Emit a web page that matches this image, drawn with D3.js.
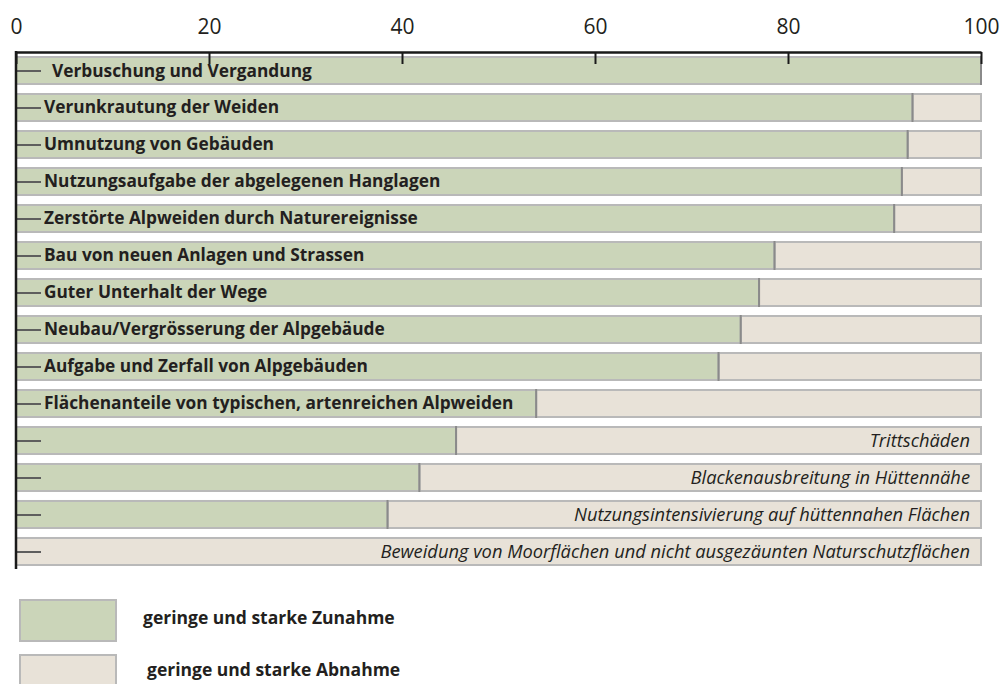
<!DOCTYPE html>
<html>
<head>
<meta charset="utf-8">
<script src="https://cdn.jsdelivr.net/npm/d3@7"></script>
<style>
  body { margin: 0; background: #fff; }
  svg { display: block; font-family: "Open Sans", "Noto Sans", sans-serif; }
</style>
</head>
<body>
<div id="chart"></div>
<script>
var categories = [
  "Verbuschung und Vergandung",
  "Verunkrautung der Weiden",
  "Umnutzung von Gebäuden",
  "Nutzungsaufgabe der abgelegenen Hanglagen",
  "Zerstörte Alpweiden durch Naturereignisse",
  "Bau von neuen Anlagen und Strassen",
  "Guter Unterhalt der Wege",
  "Neubau/Vergrösserung der Alpgebäude",
  "Aufgabe und Zerfall von Alpgebäuden",
  "Flächenanteile von typischen, artenreichen Alpweiden",
  "Trittschäden",
  "Blackenausbreitung in Hüttennähe",
  "Nutzungsintensivierung auf hüttennahen Flächen",
  "Beweidung von Moorflächen und nicht ausgezäunten Naturschutzflächen"
];
// share (%) with increase; the rest is decrease
var zunahme = [100, 92.9, 92.4, 91.8, 91.0, 78.6, 77.0, 75.1, 72.8, 53.9, 45.6, 41.8, 38.5, 0];
var abnahme = zunahme.map(function(v){ return 100 - v; });
var ticks = [0, 20, 40, 60, 80, 100];
var legendLabels = ["geringe und starke Zunahme", "geringe und starke Abnahme"];

var w = 1002, h = 684;
var cGreen = "#cbd5b9", cBeige = "#e8e2d8", cBorder = "#b9b9b9", cText = "#231f20";

var svg = d3.select("#chart").append("svg")
  .attr("width", w)
  .attr("height", h);

var x = d3.scaleLinear().domain([0, 100]).range([16, 981]);
var y = d3.scaleBand().domain(categories).range([57, 565]).paddingInner(0.27).paddingOuter(0);

var rows = categories.map(function(c, i){
  return {name: c, up: zunahme[i], down: abnahme[i]};
});

var row = svg.selectAll("g.row")
  .data(rows)
  .enter().append("g")
  .attr("class", "row")
  .attr("transform", function(d){ return "translate(0," + y(d.name) + ")"; });

// decrease part
row.append("rect")
  .attr("x", function(d){ return x(d.up); })
  .attr("y", 0)
  .attr("width", function(d){ return x(100) - x(d.up); })
  .attr("height", y.bandwidth())
  .attr("fill", cBeige)
  .attr("stroke", cBorder)
  .attr("stroke-width", 2);

// increase part
row.filter(function(d){ return d.up > 0; }).append("rect")
  .attr("x", x(0))
  .attr("y", 0)
  .attr("width", function(d){ return x(d.up) - x(0); })
  .attr("height", y.bandwidth())
  .attr("fill", cGreen)
  .attr("stroke", cBorder)
  .attr("stroke-width", 2);

// divider
row.filter(function(d){ return d.up > 0; }).append("line")
  .attr("x1", function(d){ return x(d.up); })
  .attr("x2", function(d){ return x(d.up); })
  .attr("y1", -1)
  .attr("y2", y.bandwidth() + 1)
  .attr("stroke", "#8a8a8a")
  .attr("stroke-width", 2);

// small leader ticks
row.append("line")
  .attr("x1", x(0))
  .attr("x2", x(0) + 25)
  .attr("y1", y.bandwidth() / 2 + 0.5)
  .attr("y2", y.bandwidth() / 2 + 0.5)
  .attr("stroke", "#5e5e5e")
  .attr("stroke-width", 2);

// labels: bold inside the green part, italic at the right end otherwise
row.append("text")
  .attr("x", function(d, i){ return d.up >= 50 ? (i == 0 ? 52 : 44) : x(100) - 11; })
  .attr("y", y.bandwidth() / 2 + 6)
  .attr("text-anchor", function(d){ return d.up >= 50 ? "start" : "end"; })
  .style("font-size", function(d){ return d.up >= 50 ? "17.3px" : "18.3px"; })
  .style("font-weight", function(d){ return d.up >= 50 ? "bold" : "normal"; })
  .style("font-style", function(d){ return d.up >= 50 ? "normal" : "italic"; })
  .attr("fill", cText)
  .text(function(d){ return d.name; });

// top axis
var xAxis = d3.axisTop(x)
  .tickValues(ticks)
  .tickSizeInner(-12)
  .tickSizeOuter(0)
  .tickPadding(18);

var ax = svg.append("g")
  .attr("class", "x axis")
  .attr("transform", "translate(0,52)")
  .call(xAxis);
ax.select(".domain").attr("stroke", "#1a1a1a").attr("stroke-width", 2.5);
ax.selectAll(".tick line").attr("stroke", "#1a1a1a").attr("stroke-width", 2);
ax.selectAll(".tick text")
  .attr("fill", cText)
  .style("font-size", "21px")
  .style("font-family", "'Open Sans', sans-serif");

// left axis line
svg.append("line")
  .attr("x1", x(0)).attr("x2", x(0))
  .attr("y1", 51).attr("y2", 569)
  .attr("stroke", "#1a1a1a")
  .attr("stroke-width", 2.5);

// legend
var legend = svg.selectAll("g.legend")
  .data(legendLabels)
  .enter().append("g")
  .attr("class", "legend")
  .attr("transform", function(d, i){ return "translate(0," + (600 + i * 55) + ")"; });

legend.append("rect")
  .attr("x", 20).attr("y", 0)
  .attr("width", 96).attr("height", 41)
  .attr("fill", function(d, i){ return i == 0 ? cGreen : cBeige; })
  .attr("stroke", cBorder)
  .attr("stroke-width", 2);

legend.append("text")
  .attr("x", function(d, i){ return i == 0 ? 143 : 147; })
  .attr("y", function(d, i){ return i == 0 ? 24 : 21; })
  .style("font-size", "17.5px")
  .style("font-weight", "bold")
  .attr("fill", cText)
  .text(function(d){ return d; });
</script>
</body>
</html>
